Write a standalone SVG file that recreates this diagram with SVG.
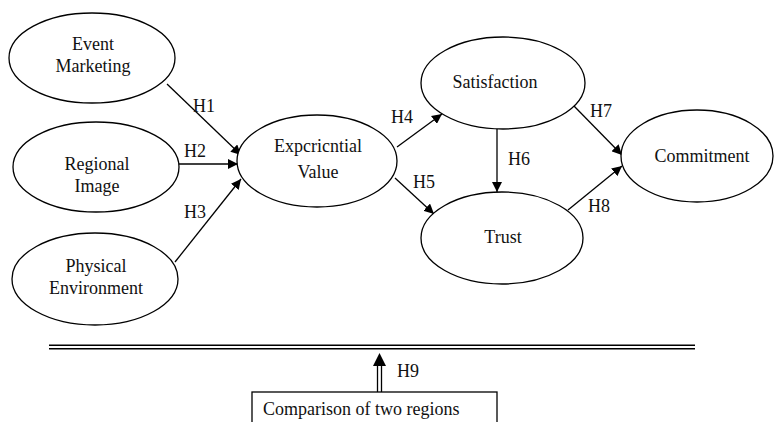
<svg xmlns="http://www.w3.org/2000/svg" width="774" height="422" viewBox="0 0 774 422" font-family="'Liberation Serif', 'DejaVu Serif', serif">
<style>
.n{fill:#fff;stroke:#000;stroke-width:1.3}
.t{font-family:'Liberation Serif','DejaVu Serif',serif;font-size:18px;fill:#111;text-anchor:middle}
.l{font-family:'Liberation Serif','DejaVu Serif',serif;font-size:18px;fill:#111}
.c{stroke:#000;stroke-width:1.3;fill:none;marker-end:url(#a)}
</style>
<defs>
<marker id="a" viewBox="0 0 10 10" refX="10" refY="5" markerWidth="10" markerHeight="10" markerUnits="userSpaceOnUse" orient="auto">
<path d="M0,0 L10,5 L0,10 z" fill="#000"/>
</marker>
</defs>
<rect width="774" height="422" fill="#fff"/>
<g id="connectors">
<line class="c" x1="167" y1="84" x2="241" y2="155"/>
<line class="c" x1="178" y1="164" x2="238" y2="164"/>
<line class="c" x1="175" y1="262" x2="241" y2="179"/>
<line class="c" x1="397" y1="147" x2="442" y2="114"/>
<line class="c" x1="395" y1="178" x2="434" y2="214"/>
<line class="c" x1="497" y1="129" x2="497" y2="192"/>
<line class="c" x1="573" y1="105" x2="622" y2="155"/>
<line class="c" x1="568" y1="210" x2="622" y2="166"/>
<text class="l" x="193" y="112">H1</text>
<text class="l" x="184" y="157">H2</text>
<text class="l" x="184" y="218">H3</text>
<text class="l" x="391" y="123">H4</text>
<text class="l" x="413" y="188">H5</text>
<text class="l" x="508" y="165">H6</text>
<text class="l" x="590" y="117">H7</text>
<text class="l" x="588" y="212">H8</text>
<line x1="49" y1="345.3" x2="695" y2="345.3" stroke="#000" stroke-width="1.5"/>
<line x1="49" y1="348.8" x2="695" y2="348.8" stroke="#000" stroke-width="1.5"/>
<line x1="377.5" y1="364" x2="377.5" y2="392" stroke="#000" stroke-width="1.3"/>
<line x1="381.5" y1="364" x2="381.5" y2="392" stroke="#000" stroke-width="1.3"/>
<path d="M379.5,353 L386,366 L373,366 z" fill="#000"/>
<text class="l" x="397" y="377">H9</text>
</g>
<g id="event-marketing">
<ellipse class="n" cx="92" cy="58" rx="83" ry="45"/>
<text class="t" x="93" y="50">Event</text>
<text class="t" x="93" y="72">Marketing</text>
</g>
<g id="regional-image">
<ellipse class="n" cx="96" cy="167" rx="83" ry="45"/>
<text class="t" x="97" y="170">Regional</text>
<text class="t" x="97" y="192">Image</text>
</g>
<g id="physical-environment">
<ellipse class="n" cx="95" cy="279" rx="83" ry="46"/>
<text class="t" x="96" y="272">Physical</text>
<text class="t" x="96" y="294">Environment</text>
</g>
<g id="experiential-value">
<ellipse class="n" cx="317" cy="161" rx="80" ry="46"/>
<text class="t" x="318" y="152">Expcricntial</text>
<text class="t" x="318" y="178">Value</text>
</g>
<g id="satisfaction">
<ellipse class="n" cx="503" cy="83" rx="82" ry="46"/>
<text class="t" x="495" y="88">Satisfaction</text>
</g>
<g id="trust">
<ellipse class="n" cx="502" cy="238" rx="81" ry="46"/>
<text class="t" x="503" y="243">Trust</text>
</g>
<g id="commitment">
<ellipse class="n" cx="697" cy="156" rx="76" ry="46"/>
<text class="t" x="702" y="162">Commitment</text>
</g>
<g id="comparison">
<rect class="n" x="252" y="392" width="245" height="40"/>
<text class="l" x="263" y="415">Comparison of two regions</text>
</g>
</svg>
